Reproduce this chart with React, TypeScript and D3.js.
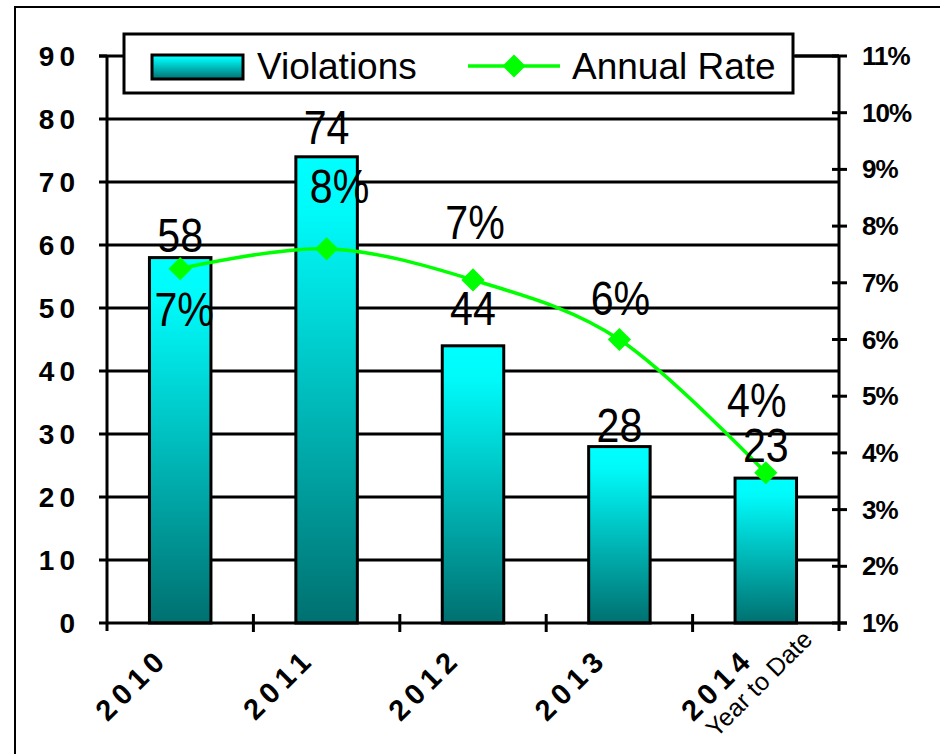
import { useEffect, useRef } from 'react'
import * as d3 from 'd3'

const years = ['2010', '2011', '2012', '2013', '2014']
const violations = [58, 74, 44, 28, 23]
const annualRate = [0.0725, 0.076, 0.0705, 0.06, 0.0365]
const leftTicks = [0, 10, 20, 30, 40, 50, 60, 70, 80, 90]
const rightTicks = [0.01, 0.02, 0.03, 0.04, 0.05, 0.06, 0.07, 0.08, 0.09, 0.1, 0.11]

// label nudges (px) so labels sit like in the source deck
const rateLabelDy = [57, -46, -41, -25, -56]
const rateLabelDx = [4, 13, 2, 1, -9]
const valueLabelDy = [-6, -13, -21, -5, -16]

export default function App() {
  const ref = useRef<SVGSVGElement | null>(null)

  useEffect(() => {
    const width = 940
    const height = 754
    const svg = d3.select(ref.current)
    svg.selectAll('*').remove()
    svg.attr('width', width).attr('height', height)

    const left = 107
    const right = 839
    const top = 56
    const bottom = 623
    const font = 'Liberation Sans, Arial, sans-serif'
    const squeeze = 0.84 // data labels are horizontally condensed in the original

    svg.append('rect').attr('width', width).attr('height', height).attr('fill', '#fff')
    // outer frame
    svg.append('rect')
      .attr('x', 15).attr('y', 7).attr('width', 960).attr('height', 800)
      .attr('fill', 'none').attr('stroke', '#000').attr('stroke-width', 2)

    const defs = svg.append('defs')
    const grad = defs.append('linearGradient').attr('id', 'barGrad')
      .attr('x1', 0).attr('y1', 0).attr('x2', 0).attr('y2', 1)
    grad.append('stop').attr('offset', '0%').attr('stop-color', '#00ffff')
    grad.append('stop').attr('offset', '12%').attr('stop-color', '#00fafa')
    grad.append('stop').attr('offset', '100%').attr('stop-color', '#007070')

    const x = d3.scaleBand().domain(years).range([left, right]).paddingInner(0.58).paddingOuter(0.29)
    const y = d3.scaleLinear().domain([0, 90]).range([bottom, top])
    const yR = d3.scaleLinear().domain([0.01, 0.11]).range([bottom, top])
    const cx = (d: string) => (x(d) as number) + x.bandwidth() / 2

    // gridlines + left ticks
    const gl = svg.append('g')
    gl.selectAll('line.grid').data(leftTicks.slice(1)).enter().append('line')
      .attr('x1', left - 8).attr('x2', right)
      .attr('y1', (d) => y(d)).attr('y2', (d) => y(d))
      .attr('stroke', '#000').attr('stroke-width', 3)
    gl.selectAll('text').data(leftTicks).enter().append('text')
      .attr('x', 80).attr('y', (d) => y(d) + 10)
      .attr('text-anchor', 'end')
      .style('font-family', font).style('font-weight', 'bold').style('font-size', '28px')
      .style('letter-spacing', '5px')
      .text((d) => String(d))

    // bars
    svg.selectAll('rect.bar').data(years).enter().append('rect')
      .attr('class', 'bar')
      .attr('x', (d) => x(d) as number)
      .attr('width', x.bandwidth())
      .attr('y', (_d, i) => y(violations[i]))
      .attr('height', (_d, i) => bottom - y(violations[i]))
      .attr('fill', 'url(#barGrad)')
      .attr('stroke', '#000').attr('stroke-width', 3)

    // axes
    const ax = svg.append('g').attr('stroke', '#000').attr('stroke-width', 3)
    ax.append('line').attr('x1', left).attr('x2', left).attr('y1', top).attr('y2', bottom + 8)
    ax.append('line').attr('x1', left - 8).attr('x2', left).attr('y1', bottom).attr('y2', bottom)
    ax.append('line').attr('x1', left - 8).attr('x2', left).attr('y1', top).attr('y2', top)
    ax.append('line').attr('x1', left).attr('x2', right + 8).attr('y1', bottom).attr('y2', bottom)
    ax.append('line').attr('x1', right).attr('x2', right).attr('y1', top).attr('y2', bottom + 8)
    const step = x.step()
    const bounds = d3.range(1, years.length).map((i) => left + i * step)
    ax.selectAll('line.xt').data(bounds).enter().append('line')
      .attr('x1', (d) => d).attr('x2', (d) => d)
      .attr('y1', bottom - 9).attr('y2', bottom + 9)
    ax.selectAll('line.rt').data(rightTicks).enter().append('line')
      .attr('x1', right - 7).attr('x2', right + 8)
      .attr('y1', (d) => yR(d)).attr('y2', (d) => yR(d))
    ax.append('line').attr('x1', 795).attr('x2', right).attr('y1', top).attr('y2', top)

    svg.append('g').selectAll('text').data(rightTicks).enter().append('text')
      .attr('x', 862).attr('y', (d) => yR(d) + 9)
      .style('font-family', font).style('font-weight', 'bold').style('font-size', '26px')
      .style('letter-spacing', '-1px')
      .text((d) => d3.format('.0%')(d))

    // rate line
    const pts = years.map((d, i) => [cx(d), yR(annualRate[i])] as [number, number])
    const line = d3.line().curve(d3.curveCatmullRom.alpha(0))
    svg.append('path').attr('d', line(pts) as string)
      .attr('fill', 'none').attr('stroke', '#00ff00').attr('stroke-width', 3.5)
    const diamond = d3.symbol().type(d3.symbolSquare).size(270)
    svg.selectAll('path.mk').data(pts).enter().append('path')
      .attr('d', diamond() as string)
      .attr('transform', (d) => `translate(${d[0]},${d[1]}) rotate(45)`)
      .attr('fill', '#00ff00')

    // value labels
    svg.selectAll('text.vl').data(years).enter().append('text')
      .attr('transform', (d, i) => `translate(${cx(d)},${y(violations[i]) + valueLabelDy[i]}) scale(${squeeze},1)`)
      .attr('text-anchor', 'middle')
      .style('font-family', font).style('font-size', '49px')
      .text((_d, i) => String(violations[i]))

    svg.selectAll('text.rl').data(years).enter().append('text')
      .attr('transform', (d, i) => `translate(${cx(d) + rateLabelDx[i]},${yR(annualRate[i]) + rateLabelDy[i]}) scale(${squeeze},1)`)
      .attr('text-anchor', 'middle')
      .style('font-family', font).style('font-size', '49px')
      .text((_d, i) => d3.format('.0%')(annualRate[i]))

    // x labels
    svg.selectAll('text.xl').data(years).enter().append('text')
      .attr('transform', (d) => `translate(${cx(d) - 10},${660}) rotate(-45)`)
      .attr('text-anchor', 'end')
      .style('font-family', font).style('font-weight', 'bold').style('font-size', '29px')
      .style('letter-spacing', '6px')
      .text((d) => d)
    svg.append('text')
      .attr('transform', `translate(${cx('2014') + 48},${641}) rotate(-45)`)
      .attr('text-anchor', 'end')
      .style('font-family', font).style('font-size', '25px')
      .text('Year to Date')

    // legend
    const lg = svg.append('g')
    lg.append('rect').attr('x', 124).attr('y', 34).attr('width', 669).attr('height', 59)
      .attr('fill', '#fff').attr('stroke', '#000').attr('stroke-width', 3)
    lg.append('rect').attr('x', 152).attr('y', 55).attr('width', 91).attr('height', 24)
      .attr('fill', 'url(#barGrad)').attr('stroke', '#000').attr('stroke-width', 3)
    lg.append('text').attr('x', 257).attr('y', 79)
      .style('font-family', font).style('font-size', '37px').text('Violations')
    lg.append('line').attr('x1', 468).attr('x2', 560).attr('y1', 66).attr('y2', 66)
      .attr('stroke', '#00ff00').attr('stroke-width', 3.5)
    lg.append('path').attr('d', diamond() as string)
      .attr('transform', 'translate(514,66) rotate(45)').attr('fill', '#00ff00')
    lg.append('text').attr('x', 572).attr('y', 79)
      .style('font-family', font).style('font-size', '37px').text('Annual Rate')
  }, [])

  return <svg ref={ref} style={{ position: 'absolute', left: 0, top: 0 }} />
}
